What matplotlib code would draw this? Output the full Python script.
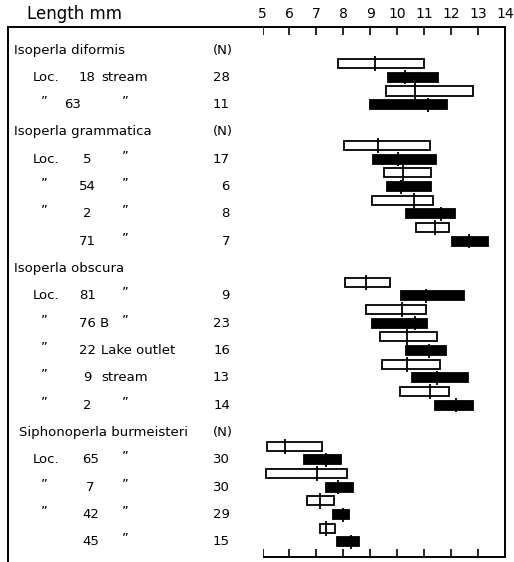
import matplotlib
matplotlib.use("Agg")
import matplotlib.pyplot as plt

# ---------------- data ----------------
ticks_mm = [5, 6, 7, 8, 9, 10, 11, 12, 13, 14]

# table rows (19 text lines)
row_kind = ["h", "r", "r", "h", "r", "r", "r", "r", "h", "r", "r", "r", "r", "r", "h", "r", "r", "r", "r"]
row_header = ["Isoperla diformis", "", "", "Isoperla grammatica", "", "", "", "", "Isoperla obscura",
              "", "", "", "", "", "Siphonoperla burmeisteri", "", "", "", ""]
row_loc = ["", "Loc.", "\u201d", "", "Loc.", "\u201d", "\u201d", "", "", "Loc.", "\u201d", "\u201d", "\u201d", "\u201d",
           "", "Loc.", "\u201d", "\u201d", ""]
row_num = ["", "18", "63", "", "5", "54", "2", "71", "", "81", "76 B", "22", "9", "2", "", "65", "7", "42", "45"]
row_place = ["", "stream", "\u201d", "", "\u201d", "\u201d", "\u201d", "\u201d", "", "\u201d", "\u201d", "Lake outlet",
             "stream", "\u201d", "", "\u201d", "\u201d", "\u201d", "\u201d"]
row_n = ["(N)", "28", "11", "(N)", "17", "6", "8", "7", "", "9", "23", "16", "13", "14", "(N)", "30", "30", "29", "15"]

# bars: one open + one filled per location row
loc_rows = [1, 2, 4, 5, 6, 7, 9, 10, 11, 12, 13, 15, 16, 17, 18]
open_min = [7.79, 9.57, 8.03, 9.51, 9.06, 10.71, 8.06, 8.83, 9.35, 9.45, 10.09, 5.16, 5.13, 6.64, 7.15]
open_max = [11.00, 12.81, 11.23, 11.24, 11.34, 11.94, 9.75, 11.08, 11.47, 11.60, 11.92, 7.19, 8.14, 7.66, 7.69]
open_med = [9.18, 10.67, 9.30, 10.22, 10.64, 11.41, 8.85, 10.17, 10.35, 10.38, 11.20, 5.83, 7.04, 7.15, 7.34]
fill_min = [9.66, 8.98, 9.10, 9.62, 10.34, 12.03, 10.13, 9.07, 10.34, 10.56, 11.39, 6.55, 7.34, 7.62, 7.77]
fill_max = [11.51, 11.85, 11.45, 11.27, 12.13, 13.36, 12.47, 11.10, 11.80, 12.62, 12.83, 7.91, 8.36, 8.20, 8.59]
fill_med = [10.28, 11.14, 10.03, 10.15, 11.61, 12.65, 11.08, 10.65, 11.17, 11.49, 12.19, 7.35, 7.81, 7.99, 8.30]

# ---------------- layout ----------------
W, H = 514, 562
fig = plt.figure(figsize=(W / 100, H / 100), dpi=100)

ROW0_PX = 50.0      # pixel y of first text row
ROW_PX = 27.33      # pixel per row
TOP_PX = 27.0
def px2row(py):
    return (py - ROW0_PX) / ROW_PX

X5_PX, X14_PX = 262.5, 505.0
LEFT_PX = 8.0
BOT_BARS_PX = 557.0

ax = fig.add_axes([X5_PX / W, (H - BOT_BARS_PX) / H, (X14_PX - X5_PX) / W, (BOT_BARS_PX - TOP_PX) / H])
axt = fig.add_axes([LEFT_PX / W, 0.0, (X5_PX - LEFT_PX) / W, (H - TOP_PX) / H])

ax.set_xlim(5, 14)
ax.set_ylim(px2row(BOT_BARS_PX), px2row(TOP_PX))
axt.set_xlim(LEFT_PX, X5_PX)
axt.set_ylim(px2row(H), px2row(TOP_PX))

font = "DejaVu Sans"
lw = 1.3

# bars
bh = 0.33
ytop = [r - 0.5 for r in loc_rows]
ax.barh(ytop, [b - a for a, b in zip(open_min, open_max)], left=open_min, height=bh,
        facecolor="white", edgecolor="black", linewidth=lw, zorder=2)
ax.barh(loc_rows, [b - a for a, b in zip(fill_min, fill_max)], left=fill_min, height=bh,
        facecolor="black", edgecolor="black", linewidth=lw, zorder=2)
ax.vlines(open_med, [y - 0.28 for y in ytop], [y + 0.28 for y in ytop], color="black", linewidth=lw, zorder=3)
ax.vlines(fill_med, [y - 0.26 for y in loc_rows], [y + 0.26 for y in loc_rows], color="black", linewidth=lw, zorder=3)

# axes styling
ax.spines["left"].set_visible(False)
for s in ["top", "right", "bottom"]:
    ax.spines[s].set_linewidth(1.4)
ax.set_xticks(ticks_mm)
ax.set_xticklabels([str(t) for t in ticks_mm])
ax.tick_params(axis="x", which="both", direction="in", length=5.5, width=1.2,
               top=True, bottom=True, labeltop=True, labelbottom=False, pad=4.5, labelsize=10)
for lab in ax.get_xticklabels():
    lab.set_family(font)
ax.set_yticks([])

axt.spines["right"].set_visible(False)
axt.spines["bottom"].set_visible(False)
axt.spines["top"].set_linewidth(1.4)
axt.spines["left"].set_linewidth(1.4)
axt.set_xticks([])
axt.set_yticks([])

# title-like label
fig.text(27 / W, 1 - 14 / H, "Length mm", ha="left", va="center", fontsize=12, family=font)

# table text
fs = 9.5
for i in range(len(row_kind)):
    if row_kind[i] == "h":
        hx = 19 if row_header[i].startswith("S") else 14
        axt.text(hx, i, row_header[i], ha="left", va="center", fontsize=fs, family=font)
        if row_n[i]:
            axt.text(233, i, row_n[i], ha="right", va="center", fontsize=fs, family=font)
        continue
    if row_loc[i] == "Loc.":
        axt.text(33, i, "Loc.", ha="left", va="center", fontsize=fs, family=font)
    elif row_loc[i]:
        axt.text(44, i - 0.12, row_loc[i], ha="center", va="center", fontsize=fs, family=font)
    nx = 64 if row_num[i] == "63" else (82 if i >= 15 else 79)
    if row_num[i] in ("5", "2", "9", "7"):
        nx += 4
    axt.text(nx, i, row_num[i], ha="left", va="center", fontsize=fs, family=font)
    if row_place[i] in ("stream", "Lake outlet"):
        axt.text(101, i, row_place[i], ha="left", va="center", fontsize=fs, family=font)
    else:
        axt.text(125, i - 0.12, row_place[i], ha="center", va="center", fontsize=fs, family=font)
    axt.text(230, i, row_n[i], ha="right", va="center", fontsize=fs, family=font)

fig.savefig("out.png", dpi=100, facecolor="white")
